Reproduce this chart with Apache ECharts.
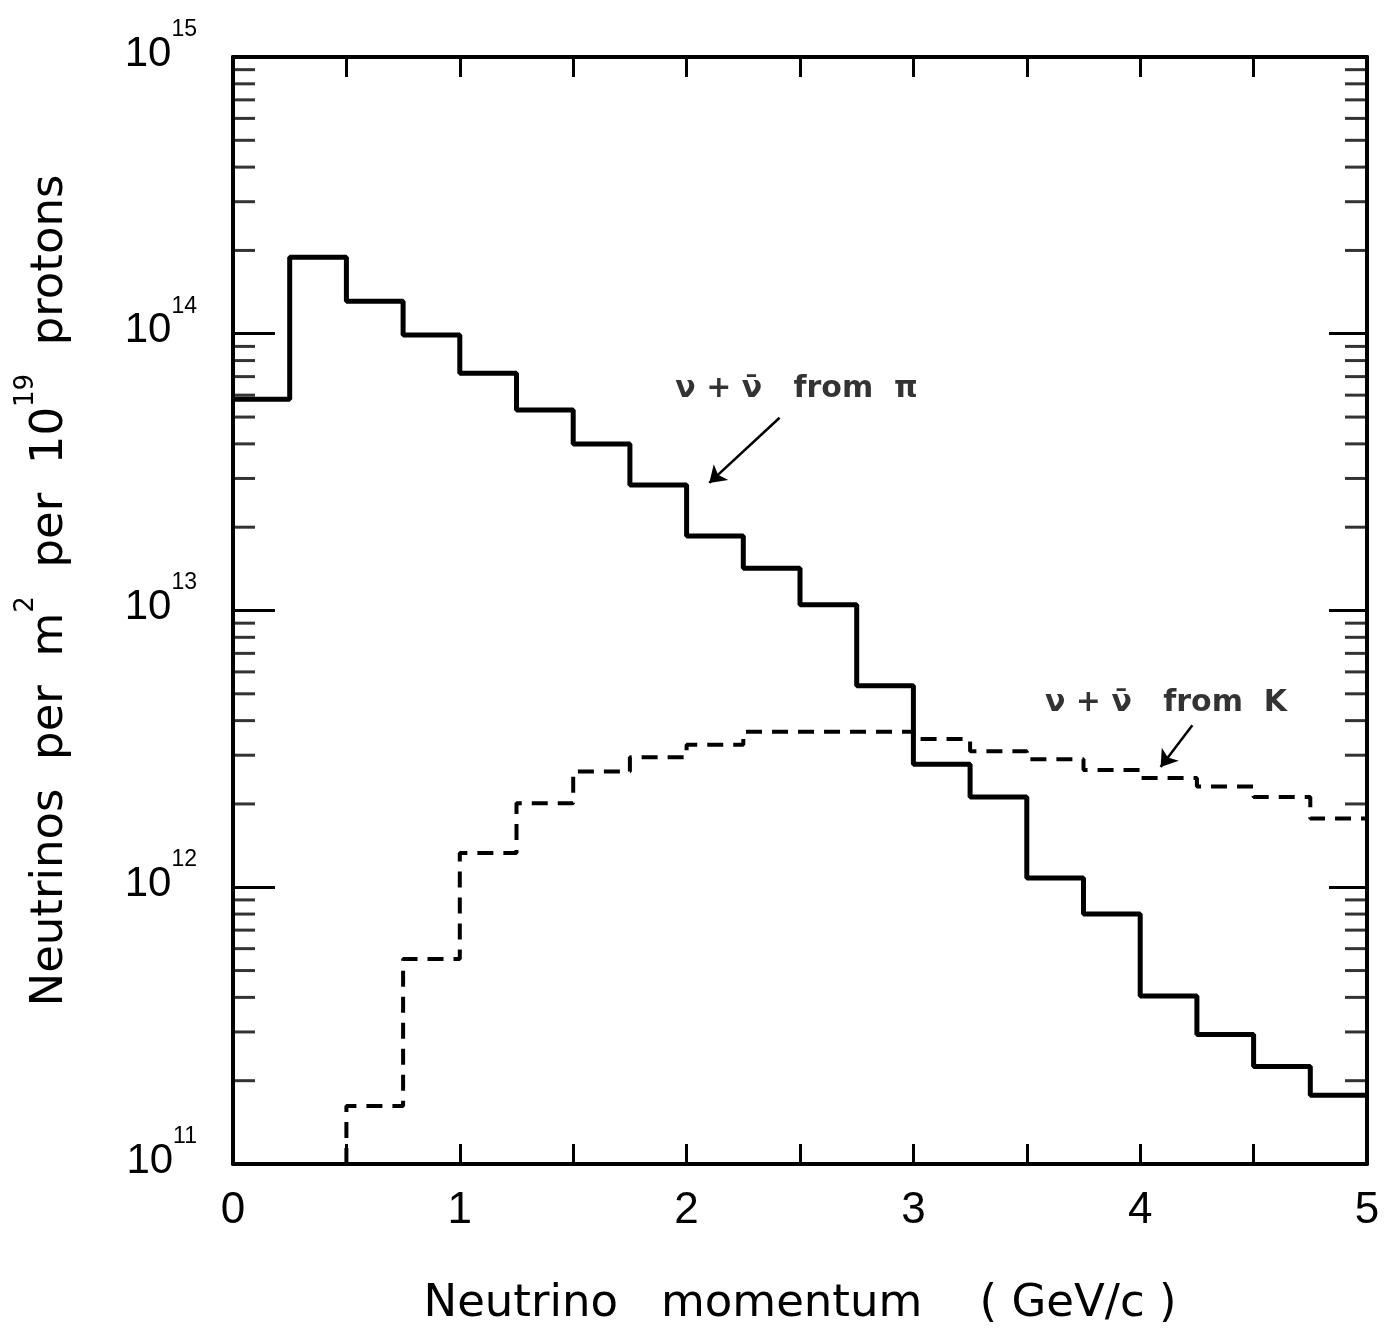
<!DOCTYPE html>
<html>
<head>
<meta charset="utf-8">
<script src="https://cdn.jsdelivr.net/npm/echarts@6/dist/echarts.min.js"></script>
<style>
  html, body { margin: 0; padding: 0; background: #fff; }
  #chart { width: 1394px; height: 1337px; }
</style>
</head>
<body>
<div id="chart"></div>
<script>
// bin left edges (GeV/c), every bin is 0.25 wide, last one ends at 5
const binLeft = [0, 0.25, 0.5, 0.75, 1, 1.25, 1.5, 1.75, 2, 2.25, 2.5, 2.75, 3, 3.25, 3.5, 3.75, 4, 4.25, 4.5, 4.75];
const binEnd = 5;

// nu + nubar from pi (solid)
const piFlux = [5.8e13, 1.89e14, 1.31e14, 9.9e13, 7.2e13, 5.3e13, 4.0e13, 2.84e13, 1.86e13, 1.42e13,
  1.05e13, 5.35e12, 2.78e12, 2.12e12, 1.08e12, 8.0e11, 4.05e11, 2.94e11, 2.25e11, 1.77e11];

// nu + nubar from K (dashed), nothing below 0.5 GeV/c
const kFlux = [null, null, 1.62e11, 5.5e11, 1.33e12, 2.01e12, 2.62e12, 2.95e12, 3.27e12, 3.65e12,
  3.65e12, 3.65e12, 3.43e12, 3.1e12, 2.9e12, 2.65e12, 2.48e12, 2.31e12, 2.12e12, 1.77e12];

const xTickLabels = [0, 1, 2, 3, 4, 5];
const yMin = 1e11;
const yMax = 1e15;
const yDecades = [1e11, 1e12, 1e13, 1e14];
const yMinorMantissa = [2, 3, 4, 5, 6, 7, 8, 9];

// annotation anchors in data coords
const piLabelAt = [1.95, 6.3e13];
const piArrow = [[2.41, 4.97e13], [2.10, 2.89e13]];
const kLabelAt = [3.58, 4.64e12];
const kArrow = [[4.23, 3.85e12], [4.09, 2.72e12]];

function histPoints(vals, fromFloor) {
  const pts = [];
  let last = null;
  vals.forEach(function (v, i) {
    if (v == null) return;
    if (!pts.length && fromFloor) pts.push([binLeft[i], yMin]);
    pts.push([binLeft[i], v]);
    last = v;
  });
  pts.push([binEnd, last]);
  return pts;
}

const minorTickValues = [];
yDecades.forEach(function (d) {
  yMinorMantissa.forEach(function (m) { minorTickValues.push(m * d); });
});

const black = "#000";
const fontMain = "DejaVu Sans";
const fontNum = "Liberation Sans";

const frameLine = { show: true, onZero: false, lineStyle: { color: black, width: 4 } };

function expLabel(v) {
  return "{b|10}{s|" + Math.round(Math.log10(v)) + "}";
}

const chart = echarts.init(document.getElementById("chart"));
const option = {
  animation: false,
  backgroundColor: "#fff",
  grid: { left: 233, right: 27, top: 57, bottom: 173 },
  xAxis: [
    {
      type: "value",
      min: 0,
      max: 5,
      interval: 0.5,
      position: "bottom",
      axisLine: frameLine,
      axisTick: { show: true, inside: true, length: 20, lineStyle: { color: black, width: 3 } },
      splitLine: { show: false },
      axisLabel: {
        show: true,
        margin: 25,
        color: black,
        fontFamily: fontNum,
        fontSize: 44,
        showMinLabel: true,
        showMaxLabel: true,
        formatter: function (v) { return xTickLabels.indexOf(v) >= 0 ? String(v) : ""; },
      },
      name: "Neutrino   momentum    ( GeV/c )",
      nameLocation: "middle",
      nameGap: 118,
      nameMoveOverlap: false,
      nameTextStyle: { color: black, fontFamily: fontMain, fontSize: 45 },
    },
    {
      type: "value",
      min: 0,
      max: 5,
      interval: 0.5,
      position: "top",
      axisLine: frameLine,
      axisTick: { show: true, inside: true, length: 20, lineStyle: { color: black, width: 3 } },
      axisLabel: { show: false },
      splitLine: { show: false },
    },
  ],
  yAxis: [
    {
      type: "log",
      logBase: 10,
      min: yMin,
      max: yMax,
      position: "left",
      axisLine: frameLine,
      axisTick: { show: true, inside: true, length: 42, lineStyle: { color: black, width: 3 } },
      minorTick: { show: false },
      splitLine: { show: false },
      axisLabel: {
        show: true,
        margin: 36,
        color: black,
        showMinLabel: true,
        showMaxLabel: true,
        padding: [0, 0, 26, 0],
        formatter: expLabel,
        rich: {
          b: { fontFamily: fontNum, fontSize: 42, color: black, verticalAlign: "bottom", lineHeight: 62 },
          s: { fontFamily: fontNum, fontSize: 23, color: black, verticalAlign: "top", padding: [5, 0, 0, 0] },
        },
      },
      name: "{a|Neutrinos  per  m}{s|2}{a|  per  10}{s|19}{a|  protons}",
      nameLocation: "middle",
      nameGap: 160,
      nameMoveOverlap: false,
      nameTextStyle: {
        padding: [0, 0, 0, 40],
        rich: {
          a: { fontFamily: fontMain, fontSize: 45, color: black, verticalAlign: "bottom", lineHeight: 64 },
          s: { fontFamily: fontMain, fontSize: 26, color: black, verticalAlign: "top", padding: [4, 0, 0, 0] },
        },
      },
    },
    {
      type: "log",
      logBase: 10,
      min: yMin,
      max: yMax,
      position: "right",
      axisLine: frameLine,
      axisTick: { show: true, inside: true, length: 38, lineStyle: { color: black, width: 3 } },
      minorTick: { show: false },
      splitLine: { show: false },
      axisLabel: { show: false },
    },
  ],
  series: [
    {
      name: "from pi",
      type: "line",
      step: "end",
      symbol: "none",
      clip: false,
      lineStyle: { color: black, width: 5 },
      data: histPoints(piFlux, false),
      markLine: {
        silent: true,
        symbol: ["none", "arrow"],
        symbolSize: 16,
        label: { show: false },
        lineStyle: { color: black, width: 2.5, type: "solid" },
        data: [[{ coord: piArrow[0] }, { coord: piArrow[1] }]],
      },
    },
    {
      name: "from K",
      type: "line",
      step: "end",
      symbol: "none",
      clip: false,
      lineStyle: { color: black, width: 4, type: [16, 10] },
      data: histPoints(kFlux, true),
      markLine: {
        silent: true,
        symbol: ["none", "arrow"],
        symbolSize: 16,
        label: { show: false },
        lineStyle: { color: black, width: 2.5, type: "solid" },
        data: [[{ coord: kArrow[0] }, { coord: kArrow[1] }]],
      },
    },
    {
      // minor log ticks, left side
      type: "scatter",
      silent: true,
      clip: false,
      symbol: "rect",
      symbolSize: [22, 3],
      symbolOffset: [11, 0],
      itemStyle: { color: black },
      data: minorTickValues.map(function (v) { return [0, v]; }),
    },
    {
      // minor log ticks, right side
      type: "scatter",
      silent: true,
      clip: false,
      symbol: "rect",
      symbolSize: [22, 3],
      symbolOffset: [-11, 0],
      itemStyle: { color: black },
      data: minorTickValues.map(function (v) { return [5, v]; }),
    },
    {
      // curve labels
      type: "scatter",
      silent: true,
      symbolSize: 0,
      label: {
        show: true,
        position: "right",
        distance: 0,
        color: black,
        fontFamily: fontMain,
        fontWeight: "bold",
        fontSize: 30,
        formatter: function (p) { return p.data.text; },
      },
      data: [
        { value: piLabelAt, text: "\u03bd + \u03bd\u0304   from  \u03c0" },
        { value: kLabelAt, text: "\u03bd + \u03bd\u0304   from  K" },
      ],
    },
  ],
};
chart.setOption(option);
</script>
</body>
</html>
